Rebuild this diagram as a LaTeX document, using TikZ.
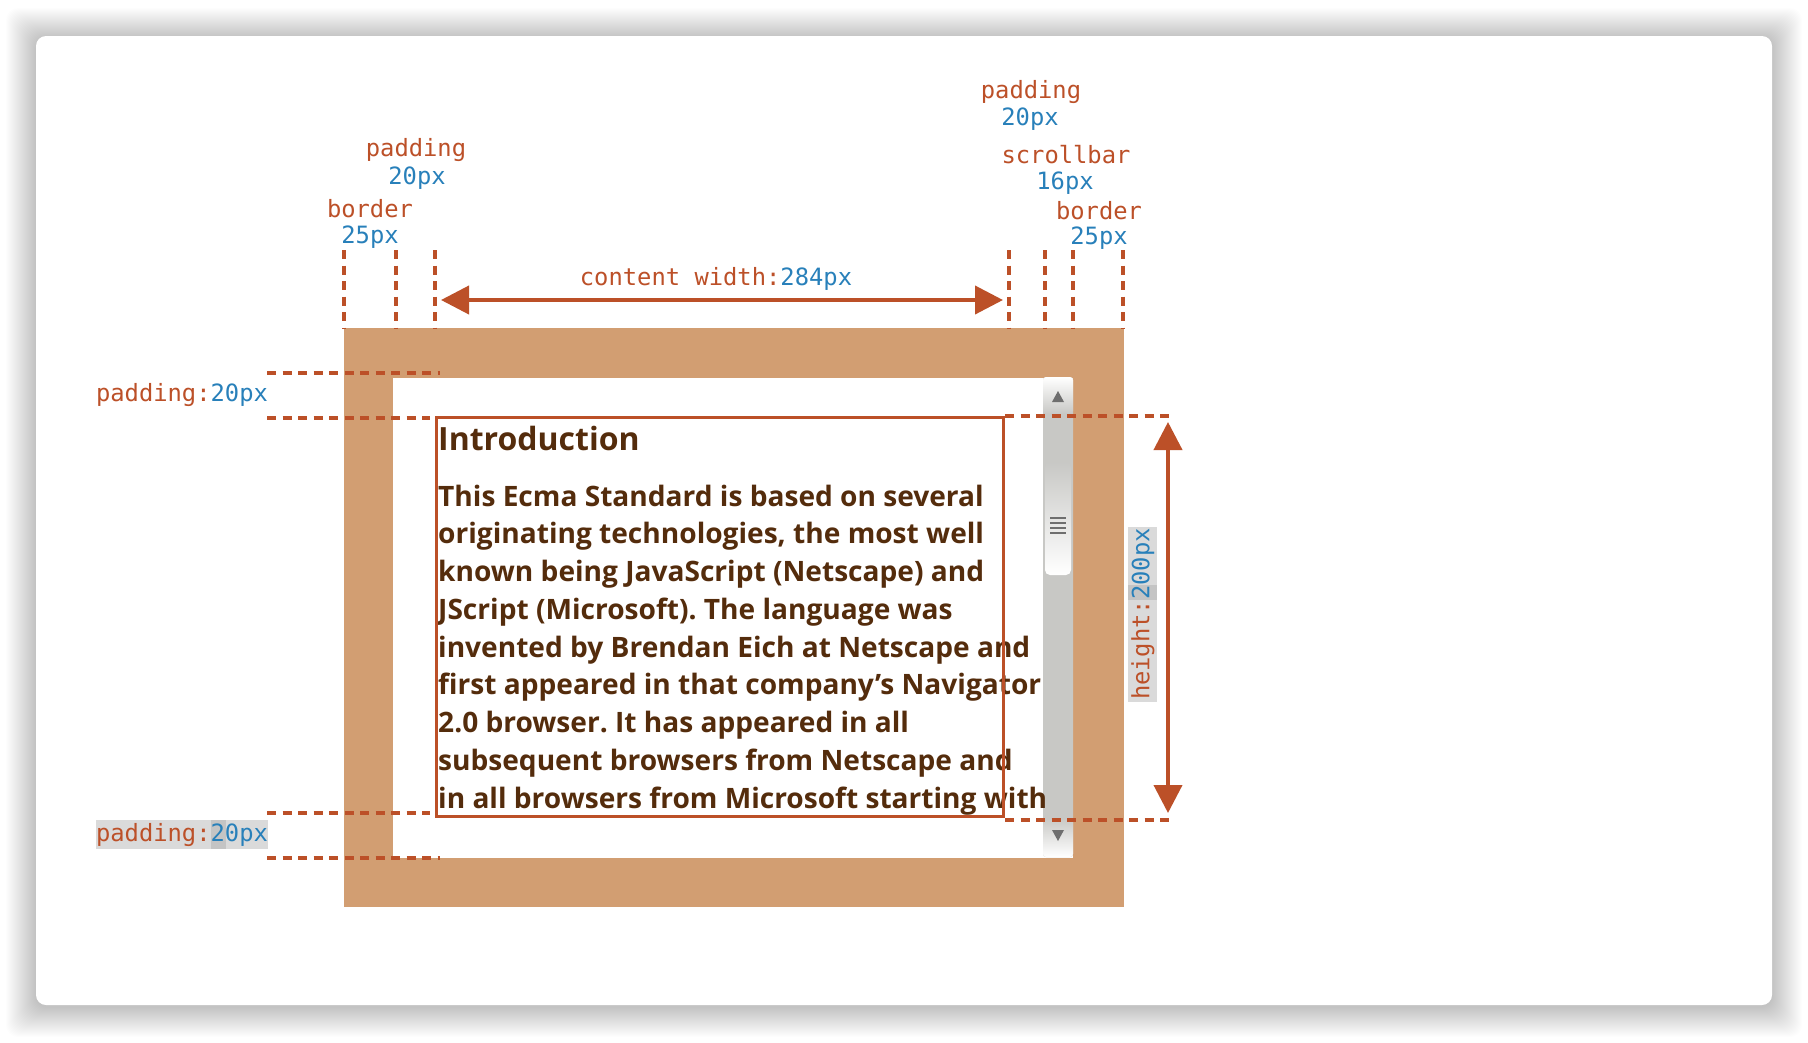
\documentclass[tikz,border=0pt]{standalone}
\usepackage{fontspec}
\setmainfont{Open Sans}
\newfontfamily\monof{DejaVu Sans Mono}
\newfontfamily\bodyf{Open Sans}
\usetikzlibrary{arrows.meta}
\frenchspacing
\definecolor{brd}{RGB}{210,158,114}
\definecolor{lab}{RGB}{188,80,40}
\definecolor{blu}{RGB}{40,128,186}
\definecolor{txt}{RGB}{84,44,12}
\definecolor{sbar}{RGB}{200,200,197}
\definecolor{hlA}{RGB}{218,218,218}
\definecolor{hlB}{RGB}{196,196,196}
\definecolor{grip}{RGB}{110,110,110}
\begin{document}
\begin{tikzpicture}[x=1pt,y=-1pt,
  lbl/.style={font=\monof\fontsize{23.8}{26}\selectfont, inner sep=0pt},
  dline/.style={draw=lab, line width=3.2pt, dash pattern=on 9pt off 6.5pt},
  dimarrow/.style={draw=lab, line width=4pt, {Triangle[length=28pt,width=28pt]}-{Triangle[length=28pt,width=28pt]}},
  bodytext/.style={font=\bodyf\bfseries\fontsize{28.1}{32}\selectfont, text=txt, inner sep=0pt, anchor=base west},
]
\useasboundingbox (0,0) rectangle (1808,1042);
\fill[white] (0,0) rectangle (1808,1042);
% shadow
\foreach \i in {1,...,30}
  \fill[black, opacity=0.006, rounded corners=12pt] (36-\i,38-\i) rectangle (1772+\i,1007+\i);
% card
\fill[white, rounded corners=10pt] (36,36) rectangle (1772,1005);

% border box
\fill[brd] (344,328) rectangle (1124,907);
\fill[white] (393,378) rectangle (1073,858);

% scrollbar
\fill[sbar, rounded corners=3pt] (1043,377) rectangle (1073,857);
\shade[top color=white, bottom color=sbar, rounded corners=3pt] (1043,377) rectangle (1073,414);
\shade[top color=sbar, bottom color=white, rounded corners=5pt] (1045,462) rectangle (1071,575);
\foreach \yy in {518,523,528,533}
  \draw[grip, line width=1.6pt] (1050,\yy) -- (1066,\yy);
\fill[grip] (1052,402) -- (1064,402) -- (1058,391) -- cycle;
\shade[top color=sbar, bottom color=white, rounded corners=3pt] (1043,818) rectangle (1073,857);
\fill[grip] (1052,830) -- (1064,830) -- (1058,841) -- cycle;

% body text
\node[bodytext, font=\bodyf\bfseries\fontsize{32}{36}\selectfont] (intro) at (438,450) {Introduction};
\node[bodytext] (l1) at (438,506) {This Ecma Standard is based on several};
\node[bodytext] (l2) at (438,543.75) {originating technologies, the most well};
\node[bodytext] (l3) at (438,581.5) {known being JavaScript (Netscape) and};
\node[bodytext] (l4) at (438,619.25) {JScript (Microsoft). The language was};
\node[bodytext] (l5) at (438,657) {invented by Brendan Eich at Netscape and};
\node[bodytext] (l6) at (438,694.75) {first appeared in that company’s Navigator};
\node[bodytext] (l7) at (438,732.5) {2.0 browser. It has appeared in all};
\node[bodytext] (l8) at (438,770.25) {subsequent browsers from Netscape and};
\node[bodytext] (l9) at (438,808) {in all browsers from Microsoft starting with};

% content rectangle
\draw[lab, line width=3pt] (436,417) rectangle (1003,816);

% top vertical guides
\foreach \xx in {344,396,435,1009,1045,1073,1123}
  \draw[dline] (\xx,250) -- (\xx,328);

% horizontal guides
\draw[dline] (267,373) -- (440,373);
\draw[dline] (267,418) -- (430,418);
\draw[dline] (267,813) -- (430,813);
\draw[dline] (267,858) -- (440,858);
\draw[dline] (1005,416) -- (1175,416);
\draw[dline] (1005,820) -- (1175,820);

% dimension arrows
\coordinate (cwL) at (441,300);
\coordinate (cwR) at (1003,300);
\draw[dimarrow] (cwL) -- (cwR);
\coordinate (hT) at (1168,422);
\coordinate (hB) at (1168,813);
\draw[dimarrow] (hT) -- (hB);

% labels
\node[lbl, text=lab] (lp) at (416,150) {padding};
\node[lbl, text=blu] (lpv) at (417,178) {20px};
\node[lbl, text=lab] (lb) at (370,209) {border};
\node[lbl, text=blu] (lbv) at (370,237) {25px};
\node[lbl, text=lab] (rp) at (1031,92) {padding};
\node[lbl, text=blu] (rpv) at (1030,119) {20px};
\node[lbl, text=lab] (rs) at (1066,155) {scrollbar};
\node[lbl, text=blu] (rsv) at (1065,183) {16px};
\node[lbl, text=lab] (rb) at (1099,211) {border};
\node[lbl, text=blu] (rbv) at (1099,238) {25px};
\node[lbl, anchor=base] (cw) at (716,285) {\textcolor{lab}{content width:}\textcolor{blu}{284px}};
\node[lbl] (ptop) at (182,395) {\textcolor{lab}{padding:}\textcolor{blu}{20px}};

\fill[hlA] (96,820) rectangle (268,849);
\fill[hlB] (211,820) rectangle (226,849);
\node[lbl] (pbot) at (182,835) {\textcolor{lab}{padding:}\textcolor{blu}{20px}};

\fill[hlA] (1128,527) rectangle (1157,702);
\fill[hlB] (1128,585) rectangle (1157,600);
\node[lbl, rotate=90] (hgt) at (1143,614) {\textcolor{lab}{height:}\textcolor{blu}{200px}};
\end{tikzpicture}
\end{document}
